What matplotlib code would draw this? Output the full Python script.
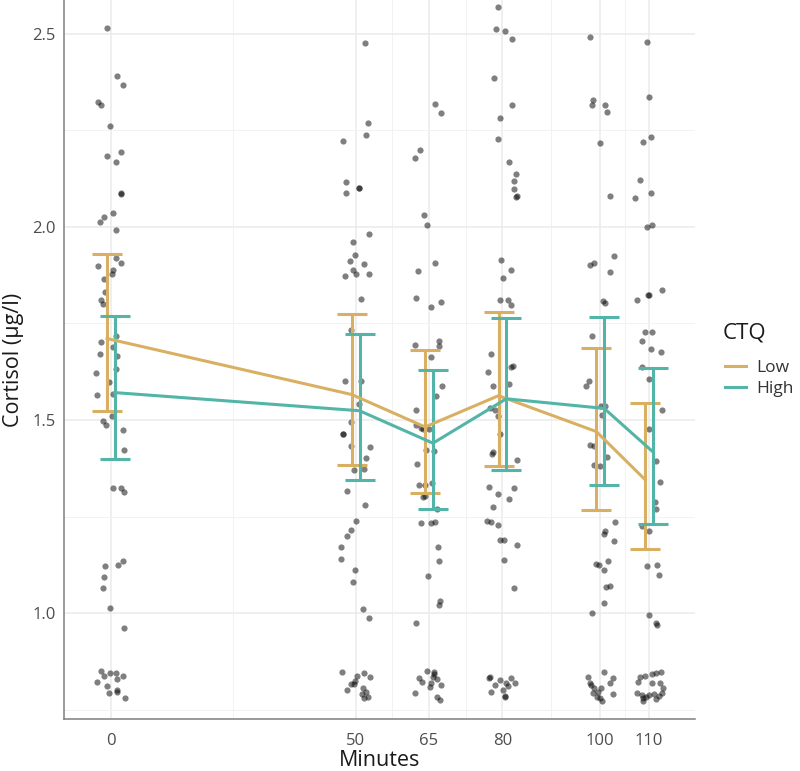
import matplotlib.pyplot as plt
import numpy as np

plt.rcParams['font.family'] = ['Open Sans', 'DejaVu Sans']

minutes = [0, 50, 65, 80, 100, 110]

# group means and error bar limits
low_mean = [1.711, 1.566, 1.482, 1.563, 1.470, 1.345]
low_lower = [1.523, 1.383, 1.312, 1.381, 1.268, 1.167]
low_upper = [1.931, 1.774, 1.681, 1.780, 1.687, 1.544]
high_mean = [1.571, 1.524, 1.440, 1.555, 1.530, 1.417]
high_lower = [1.399, 1.344, 1.270, 1.371, 1.331, 1.230]
high_upper = [1.769, 1.724, 1.629, 1.765, 1.768, 1.634]

# raw samples: horizontal jitter (minutes) and cortisol values per time point
jitter_0 = [-0.9, 1.3, 2.5, -2.6, -2.1, -0.1, -0.9, 2.0, 1.0, 2.1, 2.1, -1.4, -2.2, 0.5, 1.1,
            1.0, 2.1, -2.6, 0.4, 0.3, -1.4, -1.2, -2.1, -1.6, 1.0, -2.1, 0.4, -2.3, 1.3, -3.0,
            1.0, -0.4, -2.8, 0.4, 0.3, -1.6, -1.1, 2.4, 2.7, 0.5, 2.1, 2.7, -1.2, 1.5, 2.5,
            -1.4, -1.7, -0.2, 2.7,
            -2.1, -1.4, -0.2, 1.0, 2.4, 1.3, -2.9, -0.9, -0.5, 1.2, 1.2, 2.9]
cortisol_0 = [2.515, 2.392, 2.367, 2.323, 2.315, 2.261, 2.183, 2.194, 2.168, 2.088, 2.085, 2.026,
              2.013, 2.035, 1.993, 1.920, 1.906, 1.899, 1.889, 1.877, 1.864, 1.831, 1.812, 1.801,
              1.717, 1.701, 1.690, 1.671, 1.665, 1.623, 1.632, 1.598, 1.565, 1.568, 1.510, 1.498,
              1.487, 1.473, 1.423, 1.323, 1.324, 1.314, 1.123, 1.125, 1.136, 1.094, 1.066, 1.013,
              0.962,
              0.851, 0.838, 0.845, 0.845, 0.836, 0.829, 0.822, 0.812, 0.794, 0.796, 0.800, 0.780]

jitter_50 = [1.9, 2.6, 2.2, -2.5, -2.0, -2.0, 0.6, 0.6, 2.7, -0.6, -0.1, -1.2, 1.8, -0.5, 0.1,
             -2.1, 2.7, 1.2, -1.0, -2.2, 1.0, 0.6, -1.0, -2.6, -2.6, 3.0, -0.9, 2.1, -0.4, 1.7,
             -1.7, 2.0, 0.1, -0.9, -1.8, -2.9, -2.9, -0.1, -0.6, 1.5, 2.8,
             -2.7, 0.3, 1.8, 2.9, -0.1, -1.0, -0.3, -1.8, 1.6, 2.2, 1.4, 2.5, 1.8]
cortisol_50 = [2.476, 2.270, 2.237, 2.224, 2.117, 2.087, 2.102, 2.100, 1.983, 1.962, 1.927, 1.912,
               1.904, 1.889, 1.879, 1.874, 1.879, 1.813, 1.732, 1.602, 1.600, 1.542, 1.496, 1.465,
               1.463, 1.429, 1.432, 1.401, 1.371, 1.373, 1.317, 1.280, 1.239, 1.215, 1.199, 1.171,
               1.140, 1.112, 1.080, 1.011, 0.986,
               0.848, 0.838, 0.845, 0.834, 0.824, 0.815, 0.817, 0.800, 0.807, 0.795, 0.789, 0.782,
               0.779]

jitter_65 = [1.3, 2.5, -1.8, -2.9, -1.1, -0.5, 1.3, -2.2, -2.7, 2.4, 0.5, 2.1, 2.1, -2.9, 0.5,
             2.6, 1.5, -2.7, -2.7, -1.7, -1.2, -0.0, -0.6, 1.0, -2.4, -2.0, -0.9, 0.7, -1.3, -0.8,
             1.6, -1.7, 0.5, 1.2, 1.9, 2.1, -0.2, 2.0, 2.2, -2.7,
             -0.4, 1.0, -2.0, -1.4, 0.8, 1.7, 0.5, 0.1, 2.5, -2.8, 1.7, 2.3, 1.0]
cortisol_65 = [2.318, 2.294, 2.199, 2.180, 2.032, 2.004, 1.907, 1.887, 1.815, 1.806, 1.793, 1.705,
               1.692, 1.694, 1.662, 1.589, 1.563, 1.525, 1.488, 1.480, 1.477, 1.476, 1.423, 1.419,
               1.387, 1.332, 1.332, 1.337, 1.300, 1.304, 1.270, 1.232, 1.232, 1.237, 1.170, 1.135,
               1.095, 1.020, 1.032, 0.975,
               0.850, 0.847, 0.831, 0.821, 0.835, 0.828, 0.818, 0.808, 0.813, 0.792, 0.783, 0.776,
               0.843]

jitter_80 = [-1.0, -1.3, 0.6, 2.0, -1.8, 2.0, -0.5, -0.9, 1.4, 2.7, 2.3, 2.3, 2.7, 2.9, -0.3,
             1.8, 0.1, -0.5, 1.2, 1.7, -2.4, 1.8, 2.1, -3.0, 1.4, -1.9, -2.5, -1.6, -1.0, -0.4,
             -2.0, -2.2, 3.0, -2.8, -1.0, 2.4, 1.3, -2.0, -3.1, -2.3, -1.0, -0.5, 0.3, 3.0, 0.3,
             2.4,
             -2.5, -2.7, -1.6, -0.5, 0.8, 1.8, 2.6, 1.2, -2.4, 0.2, 0.6, 0.6]
cortisol_80 = [2.571, 2.512, 2.508, 2.487, 2.387, 2.317, 2.283, 2.227, 2.169, 2.138, 2.118, 2.098,
               2.077, 2.080, 1.914, 1.888, 1.867, 1.810, 1.810, 1.798, 1.671, 1.637, 1.640, 1.625,
               1.593, 1.588, 1.531, 1.526, 1.511, 1.463, 1.417, 1.413, 1.396, 1.326, 1.308, 1.324,
               1.295, 1.275, 1.239, 1.235, 1.227, 1.189, 1.189, 1.177, 1.138, 1.064,
               0.835, 0.831, 0.813, 0.826, 0.820, 0.831, 0.820, 0.811, 0.796, 0.801, 0.785, 0.782]

jitter_100 = [-2.1, -1.4, -1.6, 1.0, 1.4, -0.1, 1.9, -2.1, -1.2, 2.9, 2.0, 0.5, 1.0, -1.6, -2.3,
              -2.9, 0.2, 1.0, 0.4, -2.1, -1.3, 1.3, -1.2, 0.0, 3.0, 1.0, 0.7, 2.9, -0.9, -0.2,
              1.6, 0.8, 2.0, 1.1, 0.7, -1.6,
              -2.5, -2.2, -1.8, -1.2, 0.2, 0.8, 2.5, 1.9, -1.5, -0.6, -0.1, 0.4, 2.5, -0.5]
cortisol_100 = [2.493, 2.330, 2.317, 2.317, 2.298, 2.218, 2.079, 1.901, 1.906, 1.924, 1.883, 1.808,
                1.804, 1.717, 1.601, 1.587, 1.537, 1.537, 1.512, 1.435, 1.433, 1.405, 1.383, 1.382,
                1.235, 1.213, 1.205, 1.186, 1.126, 1.124, 1.134, 1.112, 1.069, 1.067, 1.027, 1.000,
                0.833, 0.820, 0.813, 0.805, 0.805, 0.846, 0.832, 0.818, 0.792, 0.783, 0.779, 0.773,
                0.789, 0.796]

jitter_110 = [-0.5, 0.0, 0.3, -1.2, -1.8, -2.9, 0.3, -0.5, 0.5, -2.5, -0.3, -0.1, 2.7, -0.9, 0.6,
              -1.4, 0.3, 2.5, -1.5, 0.0, 2.7, 0.0, 1.4, 2.3, 1.1, 1.3, -1.5, 0.0, -0.5, 1.5, 2.1,
              0.0, 1.6, 1.4,
              -2.3, -1.8, -0.8, 0.5, 1.4, 2.5, 0.5, 2.2, 2.8, -2.4, -1.5, -1.2, -0.7, -0.1, 1.0,
              1.4, 2.0, 2.6, -1.2]
cortisol_110 = [2.479, 2.336, 2.232, 2.219, 2.121, 2.074, 2.087, 2.000, 2.006, 1.810, 1.824, 1.824,
                1.836, 1.727, 1.727, 1.704, 1.685, 1.677, 1.637, 1.607, 1.526, 1.477, 1.395, 1.339,
                1.287, 1.269, 1.226, 1.212, 1.123, 1.124, 1.098, 0.994, 0.970, 0.973,
                0.822, 0.835, 0.838, 0.842, 0.844, 0.846, 0.819, 0.820, 0.805, 0.794, 0.788, 0.779,
                0.783, 0.788, 0.790, 0.777, 0.785, 0.792, 0.772]

jitters = [jitter_0, jitter_50, jitter_65, jitter_80, jitter_100, jitter_110]
cortisols = [cortisol_0, cortisol_50, cortisol_65, cortisol_80, cortisol_100, cortisol_110]

low_color = '#D9B061'
high_color = '#52B5A7'
dodge = 0.8

fig = plt.figure(figsize=(8, 7.71), dpi=100)
ax = fig.add_axes([0.08, 0.0674, 0.789, 0.9326])

# background grid like ggplot theme_minimal
minor_x = [(a + b) / 2 for a, b in zip(minutes[:-1], minutes[1:])]
ax.set_xticks(minutes)
ax.set_xticks(minor_x, minor=True)
ax.set_yticks([1.0, 1.5, 2.0, 2.5])
ax.set_yticks([0.75, 1.25, 1.75, 2.25], minor=True)
ax.grid(which='major', color='#EBEBEB', linewidth=1.1, zorder=0)
ax.grid(which='minor', color='#F2F2F2', linewidth=0.7, zorder=0)
ax.set_axisbelow(True)

for t, dx, ys in zip(minutes, jitters, cortisols):
    ax.scatter(np.array(dx) + t, ys, s=20, color='black', alpha=0.5, linewidths=0, zorder=2)

mins = np.array(minutes, dtype=float)
for xs, m, lo, hi, col, lab in [
        (mins - dodge, low_mean, low_lower, low_upper, low_color, 'Low'),
        (mins + dodge, high_mean, high_lower, high_upper, high_color, 'High')]:
    m = np.array(m)
    ax.errorbar(xs, m, yerr=[m - np.array(lo), np.array(hi) - m], color=col, linewidth=2.2,
                elinewidth=2.2, capsize=10.5, capthick=2.2, label=lab, zorder=3)

ax.set_xlim(-9.6, 119.4)
ax.set_ylim(0.7254, 2.588)

for side in ['top', 'right']:
    ax.spines[side].set_visible(False)
for side in ['left', 'bottom']:
    ax.spines[side].set_color('#7F7F7F')
    ax.spines[side].set_linewidth(1.1)
ax.tick_params(which='both', length=0, labelsize=12, labelcolor='#4D4D4D')
ax.tick_params(axis='x', pad=10)
ax.tick_params(axis='y', pad=6)
ax.set_xlabel('Minutes', fontsize=15.5, labelpad=1, color='#1A1A1A')
ax.set_ylabel('Cortisol (µg/l)', fontsize=15.5, labelpad=6, color='#1A1A1A')

fig.text(723 / 800, 1 - 333 / 771, 'CTQ', fontsize=16, color='#1A1A1A', ha='left', va='center')
handles = [plt.Line2D([], [], color=low_color, linewidth=2.2),
           plt.Line2D([], [], color=high_color, linewidth=2.2)]
leg = fig.legend(handles, ['Low', 'High'], loc='center left',
                 bbox_to_anchor=(0.895, 0.509), frameon=False, fontsize=12.5,
                 handlelength=1.2, handletextpad=0.6, labelspacing=0.3, borderpad=0)
for txt in leg.get_texts():
    txt.set_color('#333333')

fig.savefig('out.png', dpi=100)
